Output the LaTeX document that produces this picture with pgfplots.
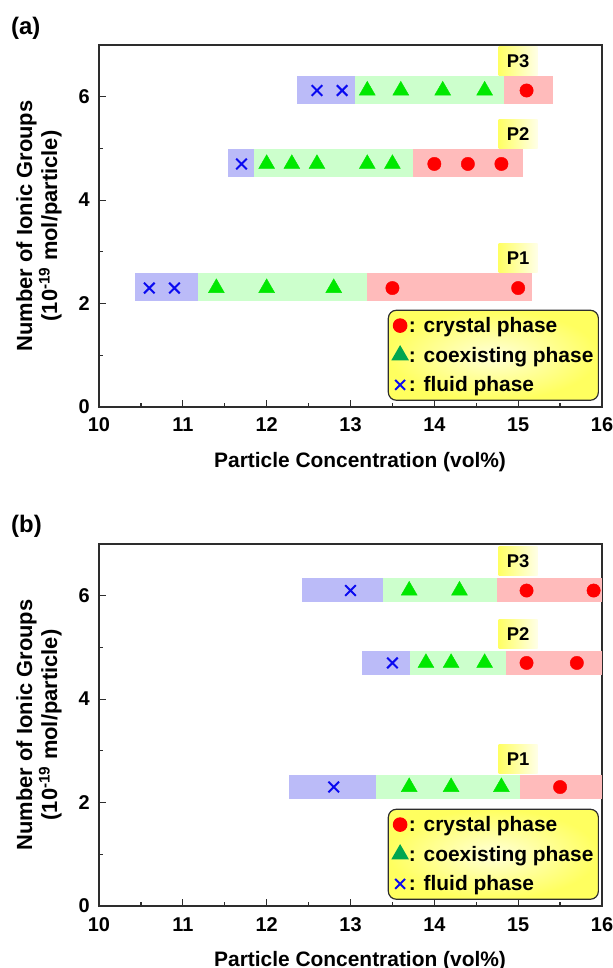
\documentclass[border=0pt]{standalone}
\usepackage{fontspec}
\setmainfont{Liberation Sans}
\usepackage{pgfplots}
\pgfplotsset{compat=1.18}
\definecolor{bluebar}{RGB}{187,187,248}
\definecolor{greenbar}{RGB}{204,255,204}
\definecolor{redbar}{RGB}{255,187,187}
\definecolor{mkgreen}{RGB}{0,232,0}
\definecolor{mkblue}{RGB}{10,10,240}
\definecolor{mkred}{RGB}{255,0,0}
\definecolor{lggreen}{RGB}{0,166,80}
\definecolor{labyellow}{RGB}{255,255,100}
\definecolor{axgray}{RGB}{45,45,45}
\tikzset{
  plab/.style={anchor=south, minimum width=39bp, minimum height=29bp, inner sep=0pt,
    left color=labyellow, middle color=labyellow, right color=labyellow!15!white,
    font=\fontsize{18.5}{20}\selectfont\bfseries},
}
\pgfplotsset{
  phase/.style={
    width=503bp, height=362bp, scale only axis,
    xmin=10, xmax=16, ymin=0, ymax=7,
    xtick={10,11,...,16}, ytick={0,2,4,6},
    minor x tick num=1, minor y tick num=1,
    tick align=inside, xtick pos=bottom, ytick pos=left,
    major tick length=7bp, minor tick length=4bp,
    axis line style={draw=axgray, line width=1.6bp},
    tick style={draw=axgray, line width=1.2bp},
    /pgf/number format/assume math mode=true,
    ticklabel style={font=\fontsize{20}{24}\selectfont\bfseries},
    xticklabel style={anchor=base, yshift=-25bp},
    yticklabel style={anchor=east, inner sep=0pt, xshift=-9bp},
    xlabel={Particle Concentration (vol\%)},
    xlabel style={font=\fontsize{21}{25}\selectfont\bfseries, at={(axis description cs:0.519,-0.166)}, anchor=base},
    ylabel={Number of Ionic Groups\\(10\textsuperscript{-19} mol/particle)},
    ylabel style={align=center, font=\fontsize{22}{25}\selectfont\bfseries, at={(axis description cs:-0.074,0.5)}, anchor=south, inner sep=0pt},
    legend style={at={(rel axis cs:0.994,0.017)}, anchor=south east, draw=axgray, line width=1.2bp,
      rounded corners=8bp, inner color={rgb,255:red,255;green,255;blue,215}, outer color={rgb,255:red,255;green,255;blue,95},
      font=\fontsize{21}{25}\selectfont\bfseries, inner xsep=4bp, inner ysep=5bp, row sep=9bp,
      nodes={inner xsep=1bp, inner ysep=2bp}},
    legend cell align=left,
  },
  phbar/.style={draw=none, forget plot},
  cry/.style={only marks, mark=*, mark size=6.7bp, color=mkred, forget plot},
  coe/.style={only marks, mark=triangle*, mark size=9.2bp, color=mkgreen, forget plot},
  flu/.style={only marks, mark=x, mark size=7.5bp, color=mkblue, line width=2bp, forget plot},
  lgimg/.style={legend image code/.code={\draw[mark repeat=2,mark phase=2,##1] plot coordinates {(0bp,0bp) (8bp,0bp) (16bp,0bp)};}},
}
\begin{document}
\begin{tikzpicture}
% ---------------- (a) ----------------
\begin{axis}[phase, at={(99bp,561bp)}, anchor=south west]
% P3 bars
\addplot[phbar, fill=bluebar]  coordinates {(12.36,5.86) (13.05,5.86) (13.05,6.41) (12.36,6.41)} -- cycle;
\addplot[phbar, fill=greenbar] coordinates {(13.05,5.86) (14.83,5.86) (14.83,6.41) (13.05,6.41)} -- cycle;
\addplot[phbar, fill=redbar]   coordinates {(14.83,5.86) (15.41,5.86) (15.41,6.41) (14.83,6.41)} -- cycle;
% P2 bars
\addplot[phbar, fill=bluebar]  coordinates {(11.54,4.44) (11.85,4.44) (11.85,4.99) (11.54,4.99)} -- cycle;
\addplot[phbar, fill=greenbar] coordinates {(11.85,4.44) (13.74,4.44) (13.74,4.99) (11.85,4.99)} -- cycle;
\addplot[phbar, fill=redbar]   coordinates {(13.74,4.44) (15.06,4.44) (15.06,4.99) (13.74,4.99)} -- cycle;
% P1 bars
\addplot[phbar, fill=bluebar]  coordinates {(10.43,2.04) (11.18,2.04) (11.18,2.59) (10.43,2.59)} -- cycle;
\addplot[phbar, fill=greenbar] coordinates {(11.18,2.04) (13.20,2.04) (13.20,2.59) (11.18,2.59)} -- cycle;
\addplot[phbar, fill=redbar]   coordinates {(13.20,2.04) (15.17,2.04) (15.17,2.59) (13.20,2.59)} -- cycle;
% markers
\addplot[flu] coordinates {(12.6,6.12) (12.9,6.12) (11.7,4.70) (10.6,2.30) (10.9,2.30)};
\addplot[coe] coordinates {(13.2,6.12) (13.6,6.12) (14.1,6.12) (14.6,6.12)
  (12.0,4.70) (12.3,4.70) (12.6,4.70) (13.2,4.70) (13.5,4.70)
  (11.4,2.30) (12.0,2.30) (12.8,2.30)};
\addplot[cry] coordinates {(15.1,6.12) (14.0,4.70) (14.4,4.70) (14.8,4.70) (13.5,2.30) (15.0,2.30)};
\node[plab] at (axis cs:15.0,6.41) {P3};
\node[plab] at (axis cs:15.0,4.99) {P2};
\node[plab] at (axis cs:15.0,2.59) {P1};
\addlegendimage{lgimg, only marks, mark=*, mark size=6.7bp, color=mkred, mark options={draw=mkred, fill=mkred}}
\addlegendentry{: crystal phase}
\addlegendimage{lgimg, only marks, mark=triangle*, mark size=9bp, color=lggreen, mark options={draw=lggreen, fill=lggreen}}
\addlegendentry{: coexisting phase}
\addlegendimage{lgimg, only marks, mark=x, mark size=7bp, color=mkblue, line width=2bp, mark options={draw=mkblue}}
\addlegendentry{: fluid phase}
\end{axis}
% ---------------- (b) ----------------
\begin{axis}[phase, at={(99bp,62bp)}, anchor=south west]
% P3 bars
\addplot[phbar, fill=bluebar]  coordinates {(12.42,5.87) (13.39,5.87) (13.39,6.34) (12.42,6.34)} -- cycle;
\addplot[phbar, fill=greenbar] coordinates {(13.39,5.87) (14.75,5.87) (14.75,6.34) (13.39,6.34)} -- cycle;
\addplot[phbar, fill=redbar]   coordinates {(14.75,5.87) (16.00,5.87) (16.00,6.34) (14.75,6.34)} -- cycle;
% P2 bars
\addplot[phbar, fill=bluebar]  coordinates {(13.14,4.47) (13.71,4.47) (13.71,4.94) (13.14,4.94)} -- cycle;
\addplot[phbar, fill=greenbar] coordinates {(13.71,4.47) (14.86,4.47) (14.86,4.94) (13.71,4.94)} -- cycle;
\addplot[phbar, fill=redbar]   coordinates {(14.86,4.47) (16.00,4.47) (16.00,4.94) (14.86,4.94)} -- cycle;
% P1 bars
\addplot[phbar, fill=bluebar]  coordinates {(12.27,2.07) (13.31,2.07) (13.31,2.54) (12.27,2.54)} -- cycle;
\addplot[phbar, fill=greenbar] coordinates {(13.31,2.07) (15.02,2.07) (15.02,2.54) (13.31,2.54)} -- cycle;
\addplot[phbar, fill=redbar]   coordinates {(15.02,2.07) (16.00,2.07) (16.00,2.54) (15.02,2.54)} -- cycle;
% markers
\addplot[flu] coordinates {(13.0,6.10) (13.5,4.70) (12.8,2.30)};
\addplot[coe] coordinates {(13.7,6.10) (14.3,6.10) (13.9,4.70) (14.2,4.70) (14.6,4.70)
  (13.7,2.30) (14.2,2.30) (14.8,2.30)};
\addplot[cry] coordinates {(15.1,6.10) (15.9,6.10) (15.1,4.70) (15.7,4.70) (15.5,2.30)};
\node[plab] at (axis cs:15.0,6.38) {P3};
\node[plab] at (axis cs:15.0,4.98) {P2};
\node[plab] at (axis cs:15.0,2.56) {P1};
\addlegendimage{lgimg, only marks, mark=*, mark size=6.7bp, color=mkred, mark options={draw=mkred, fill=mkred}}
\addlegendentry{: crystal phase}
\addlegendimage{lgimg, only marks, mark=triangle*, mark size=9bp, color=lggreen, mark options={draw=lggreen, fill=lggreen}}
\addlegendentry{: coexisting phase}
\addlegendimage{lgimg, only marks, mark=x, mark size=7bp, color=mkblue, line width=2bp, mark options={draw=mkblue}}
\addlegendentry{: fluid phase}
\end{axis}
\node[anchor=base west, inner sep=0pt, font=\fontsize{24}{28}\selectfont\bfseries] at (11bp,933bp) {(a)};
\node[anchor=base west, inner sep=0pt, font=\fontsize{24}{28}\selectfont\bfseries] at (11bp,435bp) {(b)};
\pgfresetboundingbox
\path[use as bounding box] (0bp,0bp) rectangle (613bp,968bp);
\end{tikzpicture}
\end{document}
